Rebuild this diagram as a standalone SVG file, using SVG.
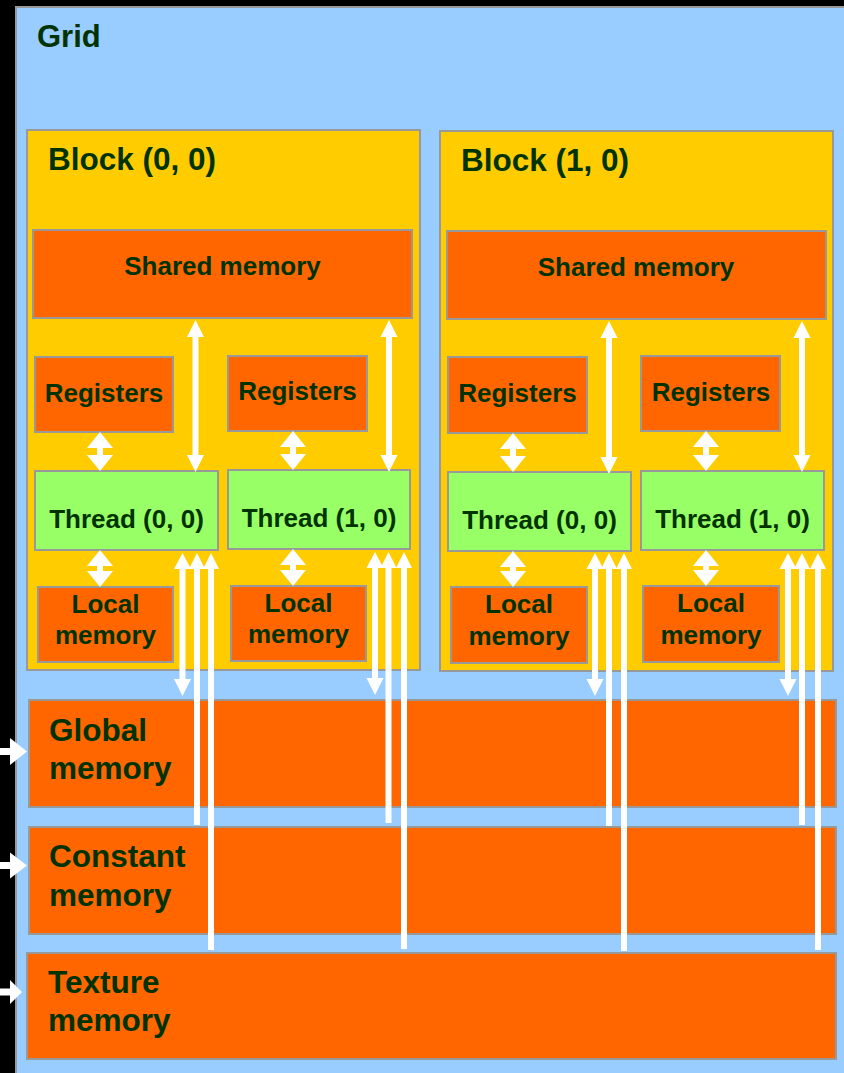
<svg xmlns="http://www.w3.org/2000/svg" width="844" height="1073" viewBox="0 0 844 1073">
<style>
.box{stroke:#999999;stroke-width:2}
.grid{fill:#99CCFF}
.blk{fill:#FFCC00}
.mem{fill:#FF6600}
.thr{fill:#99FF66}
.t{font-family:"Liberation Sans",Arial,sans-serif;font-weight:bold;fill:#003300}
.big{font-size:31.5px}
.sm{font-size:26px}
.c{text-anchor:middle}
.arr{fill:#FFFFFF}
</style>
<rect x="0" y="0" width="844" height="1073" fill="#000000"/>
<g id="grid">
<rect class="grid box" x="16" y="7" width="840" height="1080"/>
<text class="t big" x="37" y="47" style="font-size:31px">Grid</text>
</g>
<g id="block00">
<rect class="blk box" x="27" y="130" width="393" height="540"/>
<text class="t big" x="48" y="170">Block (0, 0)</text>
</g>
<g id="block10">
<rect class="blk box" x="440" y="131" width="393" height="540"/>
<text class="t big" x="461" y="171">Block (1, 0)</text>
</g>
<g id="shared0">
<rect class="mem box" x="33" y="230" width="379" height="88"/>
<text class="t sm c" x="222.5" y="275">Shared memory</text>
</g>
<g id="shared1">
<rect class="mem box" x="447" y="231" width="379" height="88"/>
<text class="t sm c" x="636" y="276">Shared memory</text>
</g>
<g id="reg00">
<rect class="mem box" x="35" y="357" width="138" height="75"/>
<text class="t sm c" x="104" y="402">Registers</text>
</g>
<g id="reg01">
<rect class="mem box" x="228" y="356" width="139" height="75"/>
<text class="t sm c" x="297.5" y="400">Registers</text>
</g>
<g id="reg10">
<rect class="mem box" x="448" y="357" width="139" height="76"/>
<text class="t sm c" x="517.5" y="402">Registers</text>
</g>
<g id="reg11">
<rect class="mem box" x="641" y="356" width="139" height="75"/>
<text class="t sm c" x="711" y="401">Registers</text>
</g>
<g id="thread00">
<rect class="thr box" x="35" y="471" width="183" height="79"/>
<text class="t sm c" x="126.5" y="528">Thread (0, 0)</text>
</g>
<g id="thread01">
<rect class="thr box" x="228" y="470" width="182" height="79"/>
<text class="t sm c" x="319" y="527">Thread (1, 0)</text>
</g>
<g id="thread10">
<rect class="thr box" x="448" y="472" width="183" height="79"/>
<text class="t sm c" x="539.5" y="529">Thread (0, 0)</text>
</g>
<g id="thread11">
<rect class="thr box" x="641" y="471" width="183" height="79"/>
<text class="t sm c" x="732.5" y="528">Thread (1, 0)</text>
</g>
<g id="local00">
<rect class="mem box" x="38" y="587" width="135" height="75"/>
<text class="t sm c" x="105.5" y="613">Local</text>
<text class="t sm c" x="105.5" y="644">memory</text>
</g>
<g id="local01">
<rect class="mem box" x="231" y="586" width="135" height="75"/>
<text class="t sm c" x="298.5" y="612">Local</text>
<text class="t sm c" x="298.5" y="643">memory</text>
</g>
<g id="local10">
<rect class="mem box" x="451" y="587" width="136" height="76"/>
<text class="t sm c" x="519" y="613">Local</text>
<text class="t sm c" x="519" y="645">memory</text>
</g>
<g id="local11">
<rect class="mem box" x="643" y="586" width="136" height="76"/>
<text class="t sm c" x="711" y="612">Local</text>
<text class="t sm c" x="711" y="644">memory</text>
</g>
<g id="global">
<rect class="mem box" x="29" y="700" width="807" height="107"/>
<text class="t big" x="49" y="741">Global</text>
<text class="t big" x="49" y="779">memory</text>
</g>
<g id="constant">
<rect class="mem box" x="29" y="827" width="807" height="107"/>
<text class="t big" x="49" y="867">Constant</text>
<text class="t big" x="49" y="906">memory</text>
</g>
<g id="texture">
<rect class="mem box" x="27" y="953" width="809" height="106"/>
<text class="t big" x="48" y="993">Texture</text>
<text class="t big" x="48" y="1031">memory</text>
</g>
<g id="connectors" class="arr">
<!-- registers <-> thread -->
<path d="M100,432 L113,448 L103,448 L103,455 L113,455 L100,471 L87,455 L97,455 L97,448 L87,448 Z"/>
<path d="M293,431 L306,447 L296,447 L296,454 L306,454 L293,470 L280,454 L290,454 L290,447 L280,447 Z"/>
<path d="M513,433 L526,449 L516,449 L516,456 L526,456 L513,472 L500,456 L510,456 L510,449 L500,449 Z"/>
<path d="M706,431 L719,447 L709,447 L709,455 L719,455 L706,471 L693,455 L703,455 L703,447 L693,447 Z"/>
<!-- thread <-> local -->
<path d="M100,550 L113,566 L103,566 L103,571 L113,571 L100,587 L87,571 L97,571 L97,566 L87,566 Z"/>
<path d="M293,549 L306,565 L296,565 L296,570 L306,570 L293,586 L280,570 L290,570 L290,565 L280,565 Z"/>
<path d="M513,551 L526,567 L516,567 L516,571 L526,571 L513,587 L500,571 L510,571 L510,567 L500,567 Z"/>
<path d="M706,550 L719,566 L709,566 L709,570 L719,570 L706,586 L693,570 L703,570 L703,566 L693,566 Z"/>
<!-- shared <-> thread -->
<path d="M195.5,320 L204,337 L198.5,337 L198.5,455 L204,455 L195.5,472 L187,455 L192.5,455 L192.5,337 L187,337 Z"/>
<path d="M389,320 L397.5,337 L392,337 L392,455 L397.5,455 L389,472 L380.5,455 L386,455 L386,337 L380.5,337 Z"/>
<path d="M609,321 L617.5,338 L612,338 L612,457 L617.5,457 L609,474 L600.5,457 L606,457 L606,338 L600.5,338 Z"/>
<path d="M802,321 L810.5,338 L805,338 L805,455 L810.5,455 L802,472 L793.5,455 L799,455 L799,338 L793.5,338 Z"/>
<!-- thread <-> global -->
<path d="M182.5,553 L191,569 L185.5,569 L185.5,679 L191,679 L182.5,696 L174,679 L179.5,679 L179.5,569 L174,569 Z"/>
<path d="M375,552 L383.5,568 L378,568 L378,678 L383.5,678 L375,695 L366.5,678 L372,678 L372,568 L366.5,568 Z"/>
<path d="M595,553 L603.5,569 L598,569 L598,679 L603.5,679 L595,696 L586.5,679 L592,679 L592,569 L586.5,569 Z"/>
<path d="M788,553 L796.5,569 L791,569 L791,679 L796.5,679 L788,696 L779.5,679 L785,679 L785,569 L779.5,569 Z"/>
<!-- constant -> thread -->
<path d="M197,553 L205,569 L200,569 L200,825 L194,825 L194,569 L189,569 Z"/>
<path d="M388.5,552 L396.5,568 L391.5,568 L391.5,823 L385.5,823 L385.5,568 L380.5,568 Z"/>
<path d="M609,553 L617,569 L612,569 L612,826 L606,826 L606,569 L601,569 Z"/>
<path d="M802,553 L810,569 L805,569 L805,825 L799,825 L799,569 L794,569 Z"/>
<!-- texture -> thread -->
<path d="M211,553 L219,569 L214,569 L214,950 L208,950 L208,569 L203,569 Z"/>
<path d="M404,552 L412,568 L407,568 L407,949 L401,949 L401,568 L396,568 Z"/>
<path d="M624,553 L632,569 L627,569 L627,951 L621,951 L621,569 L616,569 Z"/>
<path d="M818,553 L826,569 L821,569 L821,950 L815,950 L815,569 L810,569 Z"/>
<!-- host arrows -->
<path d="M0,748 L10,748 L10,738 L27,751.5 L10,765 L10,755 L0,755 Z"/>
<path d="M0,862 L10,862 L10,852.5 L27,865.5 L10,878.5 L10,869 L0,869 Z"/>
<path d="M0,988.5 L10,988.5 L10,980 L22,992 L10,1004 L10,995.5 L0,995.5 Z"/>
</g>
</svg>
